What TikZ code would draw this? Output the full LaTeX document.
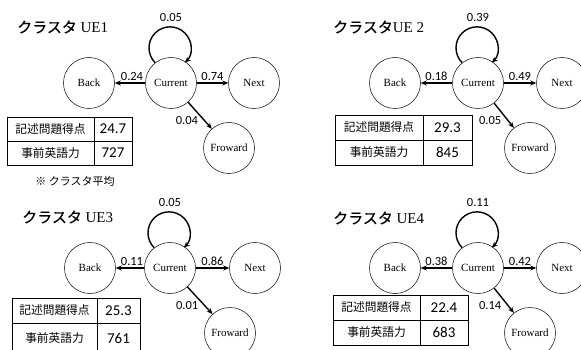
\documentclass[tikz,border=0pt]{standalone}
\usepackage{fontspec}
\setmainfont{Liberation Serif}
\newfontfamily\jpf{Noto Sans CJK JP}
\newfontfamily\jpb[FakeBold=0.3]{Noto Sans CJK JP}
\newfontfamily\numf{Carlito}
\usetikzlibrary{arrows.meta}
\begin{document}
\begin{tikzpicture}[x=1pt,y=1pt,
 st/.style={circle, draw, line width=0.5pt, minimum size=51pt, inner sep=0pt, font=\fontsize{11}{12}\selectfont},
 arr/.style={line width=1.4pt, -{Stealth[length=6pt,width=5pt]}},
 lab/.style={font=\numf\fontsize{12.5}{14}\selectfont, inner sep=1pt},
 ttl/.style={anchor=west, inner sep=0pt, font=\fontsize{15}{16}\selectfont},
 cellj/.style={draw, line width=0.6pt, inner sep=0pt, font=\jpf\fontsize{11.7}{13}\selectfont},
 celln/.style={draw, line width=0.6pt, inner sep=0pt, font=\numf\fontsize{15}{16}\selectfont},
 note/.style={font=\jpf\fontsize{11}{13}\selectfont, inner sep=0pt}
]
\useasboundingbox (0,0) rectangle (581,-350);

% ---------- Panel 1 ----------
\node[ttl] (h1) at (17,-27) {{\jpb クラスタ} UE1};
\node[st] (b1) at (89,-83) {Back};
\node[st] (c1) at (171,-83) {Current};
\node[st] (n1) at (254,-83) {Next};
\node[st] (f1) at (229,-148) {Froward};
\draw[arr] (c1) -- node[lab, above=1pt, xshift=2pt] {0.24} (b1);
\draw[arr] (c1) -- node[lab, above=1pt] {0.74} (n1);
\draw[arr] (c1) -- node[lab, pos=0.7, left=5pt] {0.04} (f1);
\draw[arr] (c1.128) arc[start angle=225, end angle=-45, radius=21];
\node[lab] (l1) at (171,-17) {0.05};
\node[cellj, minimum width=87pt, minimum height=24pt] (t1a) at (50.5,-129) {記述問題得点};
\node[celln, minimum width=38pt, minimum height=24pt] (t1b) at (113,-129) {24.7};
\node[cellj, minimum width=87pt, minimum height=24pt] (t1c) at (50.5,-153) {事前英語力};
\node[celln, minimum width=38pt, minimum height=24pt] (t1d) at (113,-153) {727};
\node[note] (nt) at (75,-181) {※ クラスタ平均};

% ---------- Panel 2 ----------
\node[ttl] (h2) at (333,-27) {{\jpb クラスタ}UE 2};
\node[st] (b2) at (395,-83) {Back};
\node[st] (c2) at (478,-83) {Current};
\node[st] (n2) at (562,-83) {Next};
\node[st] (f2) at (530,-148) {Froward};
\draw[arr] (c2) -- node[lab, above=1pt] {0.18} (b2);
\draw[arr] (c2) -- node[lab, above=1pt] {0.49} (n2);
\draw[arr] (c2) -- node[lab, pos=0.7, left=5pt] {0.05} (f2);
\draw[arr] (c2.128) arc[start angle=225, end angle=-45, radius=21];
\node[lab] (l2) at (478,-17) {0.39};
\node[cellj, minimum width=88pt, minimum height=25pt] (t2a) at (379,-127.5) {記述問題得点};
\node[celln, minimum width=49pt, minimum height=25pt] (t2b) at (447.5,-127.5) {29.3};
\node[cellj, minimum width=88pt, minimum height=25pt] (t2c) at (379,-152.5) {事前英語力};
\node[celln, minimum width=49pt, minimum height=25pt] (t2d) at (447.5,-152.5) {845};

% ---------- Panel 3 ----------
\node[ttl] (h3) at (22,-217) {{\jpb クラスタ} UE3};
\node[st] (b3) at (90,-268) {Back};
\node[st] (c3) at (170,-268) {Current};
\node[st] (n3) at (255,-268) {Next};
\node[st] (f3) at (230,-333) {Froward};
\draw[arr] (c3) -- node[lab, above=1pt, xshift=2pt] {0.11} (b3);
\draw[arr] (c3) -- node[lab, above=1pt] {0.86} (n3);
\draw[arr] (c3) -- node[lab, pos=0.7, left=5pt] {0.01} (f3);
\draw[arr] (c3.128) arc[start angle=225, end angle=-45, radius=21];
\node[lab] (l3) at (170,-202) {0.05};
\node[cellj, minimum width=85pt, minimum height=25pt] (t3a) at (54.5,-310.5) {記述問題得点};
\node[celln, minimum width=43pt, minimum height=25pt] (t3b) at (118.5,-310.5) {25.3};
\node[cellj, minimum width=85pt, minimum height=31pt] (t3c) at (54.5,-338.5) {事前英語力};
\node[celln, minimum width=43pt, minimum height=31pt] (t3d) at (118.5,-338.5) {761};

% ---------- Panel 4 ----------
\node[ttl] (h4) at (333,-218) {{\jpb クラスタ} UE4};
\node[st] (b4) at (395,-268) {Back};
\node[st] (c4) at (478,-268) {Current};
\node[st] (n4) at (562,-268) {Next};
\node[st] (f4) at (530,-333) {Froward};
\draw[arr] (c4) -- node[lab, above=1pt] {0.38} (b4);
\draw[arr] (c4) -- node[lab, above=1pt] {0.42} (n4);
\draw[arr] (c4) -- node[lab, pos=0.7, left=5pt] {0.14} (f4);
\draw[arr] (c4.128) arc[start angle=225, end angle=-45, radius=21];
\node[lab] (l4) at (478,-202) {0.11};
\node[cellj, minimum width=87pt, minimum height=25pt] (t4a) at (376.5,-307.5) {記述問題得点};
\node[celln, minimum width=48pt, minimum height=25pt] (t4b) at (444,-307.5) {22.4};
\node[cellj, minimum width=87pt, minimum height=25pt] (t4c) at (376.5,-332.5) {事前英語力};
\node[celln, minimum width=48pt, minimum height=25pt] (t4d) at (444,-332.5) {683};
\end{tikzpicture}
\end{document}
